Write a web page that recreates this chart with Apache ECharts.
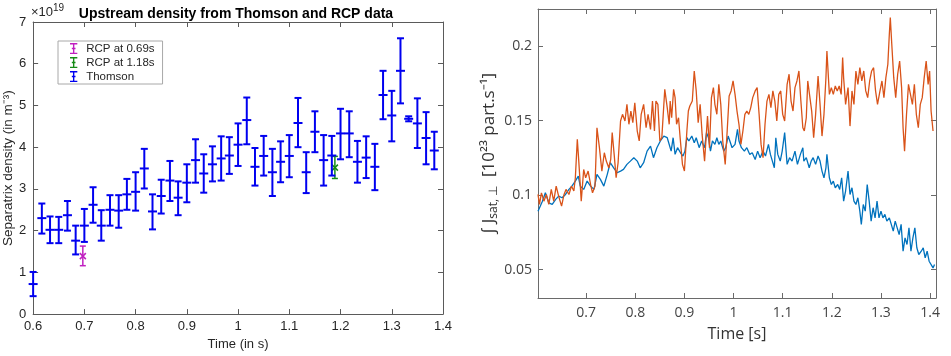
<!DOCTYPE html>
<html>
<head>
    <meta charset="UTF-8">
    <title>Upstream density / Jsat</title>
    <script src="https://cdn.jsdelivr.net/npm/echarts@6/dist/echarts.min.js"></script>
    <style>
        html, body { margin: 0; padding: 0; background: #fff; }
        #chart { width: 951px; height: 356px; }
    </style>
</head>
<body>
    <div id="chart"></div>
    <script>
        // left panel: Thomson profile (time, centre, lower, upper), x10^19 m^-3
        var thomsonT = [0.600,0.617,0.633,0.650,0.667,0.683,0.700,0.717,0.733,0.750,0.767,0.783,0.800,0.817,0.833,0.850,0.867,0.883,0.900,0.917,0.933,0.950,0.967,0.983,1.000,1.017,1.033,1.050,1.067,1.083,1.100,1.117,1.133,1.150,1.167,1.183,1.200,1.217,1.233,1.250,1.267,1.283,1.300,1.317,1.333,1.350,1.367,1.383];
        var thomsonVal = [0.72,2.30,2.02,2.02,2.37,1.76,2.12,2.62,2.12,2.50,2.48,2.87,2.93,3.49,2.46,2.83,3.20,2.79,3.15,3.69,3.37,3.59,3.73,3.80,4.06,4.65,3.53,3.79,3.40,3.65,3.79,4.58,3.40,4.37,3.69,3.80,4.33,4.33,3.65,3.75,3.53,5.25,4.76,5.83,4.68,4.57,4.22,3.92];
        var thomsonLo = [0.43,1.93,1.70,1.70,2.00,1.43,1.73,2.19,1.76,2.12,2.07,2.50,2.48,3.01,2.03,2.41,2.71,2.37,2.68,3.15,2.91,3.18,3.20,3.36,3.55,4.07,3.08,3.32,2.83,3.16,3.28,4.00,2.90,3.88,3.08,3.32,3.71,3.76,3.15,3.26,2.97,4.67,4.14,5.05,4.62,3.98,3.59,3.47];
        var thomsonHi = [1.01,2.65,2.34,2.33,2.71,2.12,2.52,3.04,2.49,2.85,2.85,3.24,3.40,3.96,2.87,3.22,3.67,3.18,3.59,4.19,3.83,4.02,4.26,4.24,4.57,5.19,3.98,4.27,3.96,4.14,4.29,5.18,3.88,4.86,4.29,4.27,4.92,4.86,4.15,4.26,4.08,5.83,5.35,6.61,4.74,5.17,4.84,4.37];

        // RCP points: [time, centre, lower, upper]
        var rcp069 = [0.697, 1.39, 1.16, 1.63];
        var rcp118 = [1.189, 3.51, 3.25, 3.78];

        var xTicksLeft = [0.6, 1.4, 0.1];
        var yTicksLeft = [0, 7, 1];

        // right panel: integrated Jsat (10^23 part/s)
        var blueT = [0.602,0.611,0.617,0.624,0.631,0.638,0.644,0.651,0.658,0.665,0.671,0.678,0.684,0.688,0.695,0.702,0.709,0.716,0.722,0.729,0.736,0.743,0.749,0.756,0.763,0.770,0.776,0.783,0.790,0.797,0.804,0.810,0.817,0.824,0.831,0.837,0.844,0.851,0.858,0.865,
            0.873,0.877,0.881,0.886,0.892,0.897,0.901,0.905,0.909,0.915,0.920,0.924,0.930,0.935,0.941,0.945,0.949,0.953,0.957,0.962,0.966,0.970,0.974,0.980,0.984,0.989,0.993,0.997,1.003,1.008,1.011,1.016,1.022,1.027,1.033,1.038,1.044,1.049,1.054,1.060,1.065,1.071,1.075,1.079,1.083,1.086,1.090,1.095,1.099,1.104,1.109,1.114,1.119,1.125,1.130,1.136,1.141,
            1.143,1.148,1.154,1.158,1.162,1.167,1.172,1.176,1.180,1.184,1.188,1.190,1.195,1.199,1.203,1.207,1.212,1.216,1.220,1.224,1.228,1.233,1.237,1.241,1.245,1.249,1.253,1.257,1.260,1.264,1.268,1.272,1.276,1.280,1.284,1.288,1.292,1.296,1.300,1.304,1.308,1.312,1.317,1.321,1.325,1.329,1.333,1.337,1.341,1.345,1.349,1.353,1.357,1.361,1.365,1.369,1.373,1.377,1.382,1.386,1.390,1.394,1.398,1.402,1.406,1.409];
        var blueY = [0.0893,0.0960,0.1016,0.0949,0.0938,0.0972,0.0994,0.0983,0.1005,0.1039,0.1061,0.1095,0.1128,0.1061,0.1039,0.1095,0.1061,0.1039,0.1140,0.1106,0.1061,0.1140,0.1218,0.1184,0.1151,0.1162,0.1173,0.1207,0.1229,0.1252,0.1229,0.1184,0.1218,0.1296,0.1330,0.1252,0.1319,0.1364,0.1397,0.1386,
            0.1296,0.1386,0.1274,0.1319,0.1285,0.1263,0.1296,0.1386,0.1364,0.1397,0.1352,0.1386,0.1319,0.1364,0.1319,0.1420,0.1386,0.1296,0.1364,0.1341,0.1386,0.1341,0.1364,0.1296,0.1319,0.1397,0.1386,0.1319,0.1341,0.1442,0.1364,0.1319,0.1296,0.1319,0.1274,0.1285,0.1240,0.1296,0.1252,0.1296,0.1263,0.1341,0.1274,0.1229,0.1184,0.1386,0.1274,0.1229,0.1296,0.1420,0.1207,0.1252,0.1229,0.1296,0.1207,0.1274,0.1319,
            0.1229,0.1252,0.1184,0.1229,0.1252,0.1207,0.1263,0.1229,0.1162,0.1117,0.1184,0.1274,0.1117,0.1072,0.1095,0.1050,0.1072,0.1039,0.1117,0.0960,0.1028,0.1162,0.1005,0.1050,0.0960,0.0938,0.0983,0.0893,0.0804,0.0938,0.0893,0.1072,0.0960,0.0826,0.0916,0.0848,0.0960,0.0848,0.0893,0.0848,0.0871,0.0826,0.0848,0.0804,0.0759,0.0826,0.0781,0.0736,0.0804,0.0624,0.0714,0.0669,0.0781,0.0624,0.0714,0.0781,0.0647,0.0602,0.0624,0.0647,0.0579,0.0624,0.0557,0.0557,0.0512,0.0535];

        var orangeT = [0.602,0.605,0.609,0.614,0.619,0.624,0.629,0.634,0.639,0.644,0.650,0.655,0.659,0.665,0.670,0.675,0.678,0.682,0.685,0.690,0.695,0.699,0.704,0.709,0.713,0.718,0.722,0.727,0.732,0.737,0.741,0.746,0.750,0.753,0.757,0.761,0.765,0.770,0.774,0.779,0.783,0.787,0.791,0.795,0.799,0.804,0.808,0.812,0.817,0.822,0.826,0.831,0.835,0.839,0.842,0.846,0.850,0.854,0.860,0.865,0.869,
            0.871,0.874,0.878,0.881,0.884,0.888,0.891,0.896,0.900,0.905,0.908,0.911,0.916,0.920,0.924,0.928,0.932,0.936,0.941,0.945,0.947,0.951,0.955,0.959,0.962,0.966,0.970,0.974,0.978,0.983,0.987,0.991,0.995,0.999,1.003,1.007,1.011,1.015,1.019,1.023,1.027,1.031,1.035,1.039,1.044,1.048,1.052,1.056,1.060,1.064,1.068,1.072,1.076,1.080,1.084,1.088,1.092,1.096,1.100,1.104,1.109,1.113,1.117,1.121,1.125,1.129,1.133,1.137,1.141,
            1.144,1.148,1.151,1.155,1.159,1.163,1.167,1.172,1.176,1.180,1.184,1.188,1.190,1.195,1.199,1.203,1.207,1.211,1.215,1.219,1.222,1.224,1.228,1.233,1.237,1.241,1.245,1.249,1.253,1.257,1.261,1.265,1.269,1.273,1.277,1.281,1.285,1.289,1.293,1.298,1.302,1.306,1.310,1.314,1.317,1.319,1.322,1.326,1.330,1.334,1.338,1.342,1.345,1.348,1.352,1.356,1.360,1.364,1.368,1.372,1.376,1.380,1.384,1.388,1.392,1.396,1.399,1.402,1.406];
        var orangeY = [0.1005,0.0938,0.1016,0.0960,0.1005,0.0938,0.1039,0.0960,0.1061,0.0994,0.0927,0.1005,0.1039,0.1005,0.1061,0.1028,0.1117,0.1375,0.1229,0.0960,0.1173,0.1117,0.1162,0.1072,0.1016,0.1061,0.1453,0.1319,0.1162,0.1285,0.1229,0.1184,0.1240,0.1420,0.1274,0.1117,0.1218,0.1498,0.1543,0.1498,0.1610,0.1476,0.1565,0.1487,0.1621,0.1431,0.1364,0.1543,0.1610,0.1453,0.1543,0.1442,0.1632,0.1431,0.1632,0.1610,0.1364,0.1386,0.1711,0.1588,0.1476,
            0.1632,0.1520,0.1711,0.1655,0.1476,0.1520,0.1397,0.1207,0.1162,0.1431,0.1565,0.1599,0.1632,0.1834,0.1700,0.1487,0.1610,0.1408,0.1229,0.1431,0.1532,0.1319,0.1655,0.1722,0.1610,0.1543,0.1744,0.1610,0.1364,0.1207,0.1431,0.1666,0.1700,0.1767,0.1677,0.1565,0.1476,0.1341,0.1431,0.1543,0.1565,0.1543,0.1588,0.1655,0.1700,0.1722,0.1543,0.1341,0.1252,0.1476,0.1632,0.1677,0.1588,0.1700,0.1632,0.1498,0.1677,0.1700,0.1543,0.1498,0.1744,0.1812,0.1632,0.1565,0.1722,0.1767,0.1834,0.1632,0.1453,
            0.1431,0.1520,0.1767,0.1767,0.1565,0.1386,0.1543,0.1800,0.1610,0.1397,0.1543,0.1789,0.1968,0.1677,0.1722,0.1677,0.1733,0.1700,0.1733,0.1677,0.1924,0.1789,0.1610,0.1722,0.1464,0.1700,0.1610,0.1834,0.1744,0.1856,0.1767,0.1834,0.1700,0.1655,0.1767,0.1834,0.1856,0.1700,0.1610,0.1700,0.1767,0.1655,0.1789,0.1879,0.2080,0.2192,0.2013,0.1789,0.1655,0.1812,0.1901,0.1722,0.1453,0.1296,0.1543,0.1744,0.1677,0.1610,0.1744,0.1543,0.1453,0.1610,0.1655,0.1789,0.1901,0.1744,0.1834,0.1565,0.1431];

        var xRangeRight = [0.602, 1.412];
        var yRangeRight = [0.031, 0.225];

        var chart = echarts.init(document.getElementById('chart'), null, { renderer: 'canvas' });

        var leftFont = 'Liberation Sans';
        var rightFont = 'Open Sans';

        // draws one matlab-like errorbar (bar, two caps, centre mark)
        function errorBar(capW, midW, lw, star) {
            return function (params, api) {
                var t = api.value(0);
                var lo = api.coord([t, api.value(1)]);
                var hi = api.coord([t, api.value(2)]);
                var mid = api.coord([t, api.value(3)]);
                var st = { stroke: api.visual('color'), lineWidth: lw };
                var kids = [
                    { type: 'line', shape: { x1: lo[0], y1: lo[1], x2: hi[0], y2: hi[1] }, style: st },
                    { type: 'line', shape: { x1: lo[0] - capW, y1: lo[1], x2: lo[0] + capW, y2: lo[1] }, style: st },
                    { type: 'line', shape: { x1: hi[0] - capW, y1: hi[1], x2: hi[0] + capW, y2: hi[1] }, style: st },
                    { type: 'line', shape: { x1: mid[0] - midW, y1: mid[1], x2: mid[0] + midW, y2: mid[1] }, style: st }
                ];
                if (star) {
                    kids.push({ type: 'line', shape: { x1: mid[0] - 3, y1: mid[1] - 3, x2: mid[0] + 3, y2: mid[1] + 3 }, style: st });
                    kids.push({ type: 'line', shape: { x1: mid[0] - 3, y1: mid[1] + 3, x2: mid[0] + 3, y2: mid[1] - 3 }, style: st });
                }
                return { type: 'group', children: kids };
            };
        }

        var thomsonData = thomsonT.map(function (t, i) { return [t, thomsonLo[i], thomsonHi[i], thomsonVal[i]]; });
        var blueData = blueT.map(function (t, i) { return [t, blueY[i]]; });
        var orangeData = orangeT.map(function (t, i) { return [t, orangeY[i]]; });

        var axLine = { show: true, onZero: false, lineStyle: { color: '#5a5a5a', width: 1 } };
        var axLineR = { show: true, onZero: false, lineStyle: { color: '#6a6a6a', width: 1 } };
        var tickL = { show: true, inside: true, length: 5, lineStyle: { color: '#5a5a5a' } };
        var tickR = { show: true, inside: true, length: 5, lineStyle: { color: '#6a6a6a' } };
        var errIcon = 'path://M0,0H8V1.5H4.75V5.25H6V6.75H4.75V10.5H8V12H0V10.5H3.25V6.75H2V5.25H3.25V1.5H0Z';

        var option = {
            animation: false,
            backgroundColor: '#fff',
            grid: [
                { left: 30, top: 22, width: 413, height: 300 },
                { left: 538, top: 9, width: 398, height: 289 }
            ],
            legend: {
                left: 58, top: 41,
                orient: 'vertical',
                backgroundColor: '#fff',
                borderColor: '#a8a8a8', borderWidth: 1,
                padding: [1, 8, 1, 12],
                itemGap: 1,
                itemWidth: 15, itemHeight: 11,
                textStyle: { fontFamily: leftFont, fontSize: 11.5, color: '#262626', lineHeight: 13 },
                data: [
                    { name: 'RCP at 0.69s', icon: errIcon },
                    { name: 'RCP at 1.18s', icon: errIcon },
                    { name: 'Thomson', icon: errIcon }
                ]
            },
            graphic: [
                {
                    type: 'text', x: 236, y: 7,
                    style: { text: 'Upstream density from Thomson and RCP data', fontFamily: leftFont, fontWeight: 'bold', fontSize: 14, fill: '#000', align: 'center' }
                },
                {
                    type: 'text', left: 31, top: 3,
                    style: {
                        text: '×10{s|19}', fontFamily: leftFont, fontSize: 13, fill: '#262626',
                        rich: { s: { fontFamily: leftFont, fontSize: 10, fill: '#262626', padding: [0, 0, 9, 0] } }
                    }
                }
            ],
            xAxis: [
                {
                    gridIndex: 0, type: 'value', min: xTicksLeft[0], max: xTicksLeft[1], interval: xTicksLeft[2],
                    axisLine: axLine, axisTick: tickL, splitLine: { show: false },
                    axisLabel: { margin: 6, fontFamily: leftFont, fontSize: 13, color: '#262626' },
                    name: 'Time (in s)', nameLocation: 'middle', nameGap: 21,
                    nameTextStyle: { fontFamily: leftFont, fontSize: 13, color: '#262626' }
                },
                {
                    gridIndex: 0, type: 'value', position: 'top', min: xTicksLeft[0], max: xTicksLeft[1], interval: xTicksLeft[2],
                    axisLine: axLine, axisTick: tickL, splitLine: { show: false }, axisLabel: { show: false }
                },
                {
                    gridIndex: 1, type: 'value', min: xRangeRight[0], max: xRangeRight[1], splitNumber: 8,
                    axisLine: axLineR, axisTick: tickR, splitLine: { show: false },
                    axisLabel: { margin: 8, fontFamily: rightFont, fontSize: 14, color: '#444', showMinLabel: false, showMaxLabel: false },
                    name: 'Time [s]', nameLocation: 'middle', nameGap: 28,
                    nameTextStyle: { fontFamily: rightFont, fontSize: 16, color: '#333' }
                },
                {
                    gridIndex: 1, type: 'value', position: 'top', min: xRangeRight[0], max: xRangeRight[1], splitNumber: 8,
                    axisLine: axLineR, axisTick: tickR, splitLine: { show: false }, axisLabel: { show: false }
                }
            ],
            yAxis: [
                {
                    gridIndex: 0, type: 'value', min: yTicksLeft[0], max: yTicksLeft[1], interval: yTicksLeft[2],
                    axisLine: axLine, axisTick: tickL, splitLine: { show: false },
                    axisLabel: { margin: 7, fontFamily: leftFont, fontSize: 13, color: '#262626' },
                    name: 'Separatrix density (in m⁻³)', nameLocation: 'middle', nameGap: 17,
                    nameTextStyle: { fontFamily: leftFont, fontSize: 13.5, color: '#262626' }
                },
                {
                    gridIndex: 0, type: 'value', position: 'right', min: yTicksLeft[0], max: yTicksLeft[1], interval: yTicksLeft[2],
                    axisLine: axLine, axisTick: tickL, splitLine: { show: false }, axisLabel: { show: false }
                },
                {
                    gridIndex: 1, type: 'value', min: yRangeRight[0], max: yRangeRight[1], splitNumber: 4,
                    axisLine: axLineR, axisTick: tickR, splitLine: { show: false },
                    axisLabel: { margin: 6, fontFamily: rightFont, fontSize: 14, color: '#444', showMinLabel: false, showMaxLabel: false },
                    name: '∫ J{sub|sat, ⊥}  [10²³ part.s⁻¹]', nameLocation: 'middle', nameGap: 38,
                    nameTextStyle: {
                        fontFamily: rightFont, fontSize: 17, color: '#333',
                        rich: { sub: { fontFamily: rightFont, fontSize: 12, color: '#333', padding: [10, 0, 0, 0] } }
                    }
                },
                {
                    gridIndex: 1, type: 'value', position: 'right', min: yRangeRight[0], max: yRangeRight[1], splitNumber: 4,
                    axisLine: axLineR, axisTick: tickR, splitLine: { show: false }, axisLabel: { show: false }
                }
            ],
            series: [
                {
                    name: 'RCP at 0.69s', type: 'custom', xAxisIndex: 0, yAxisIndex: 0, clip: false,
                    itemStyle: { color: '#c020c0' },
                    renderItem: errorBar(3, 0, 1.5, true),
                    encode: { x: 0, y: [1, 2, 3] },
                    data: [[rcp069[0], rcp069[2], rcp069[3], rcp069[1]]]
                },
                {
                    name: 'RCP at 1.18s', type: 'custom', xAxisIndex: 0, yAxisIndex: 0, clip: false,
                    itemStyle: { color: '#168c16' },
                    renderItem: errorBar(3, 0, 1.5, true),
                    encode: { x: 0, y: [1, 2, 3] },
                    data: [[rcp118[0], rcp118[2], rcp118[3], rcp118[1]]]
                },
                {
                    name: 'Thomson', type: 'custom', xAxisIndex: 0, yAxisIndex: 0, clip: false,
                    itemStyle: { color: '#0000f0' },
                    renderItem: errorBar(3.5, 4.5, 2, false),
                    encode: { x: 0, y: [1, 2, 3] },
                    data: thomsonData
                },
                {
                    type: 'line', xAxisIndex: 2, yAxisIndex: 2, showSymbol: false, silent: true,
                    lineStyle: { color: '#0072bd', width: 1.3 }, itemStyle: { color: '#0072bd' },
                    data: blueData
                },
                {
                    type: 'line', xAxisIndex: 2, yAxisIndex: 2, showSymbol: false, silent: true,
                    lineStyle: { color: '#d95319', width: 1.3 }, itemStyle: { color: '#d95319' },
                    data: orangeData
                }
            ]
        };

        chart.setOption(option);
    </script>
</body>
</html>
